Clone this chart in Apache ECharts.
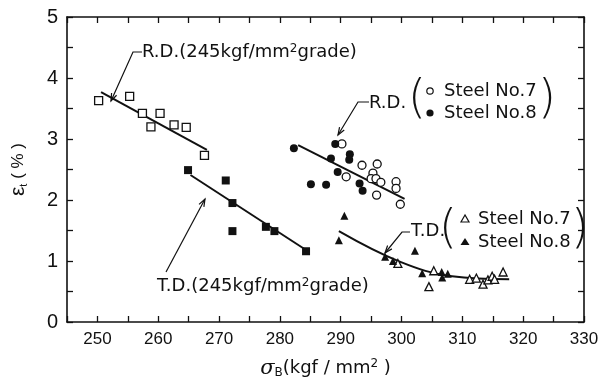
<!DOCTYPE html>
<html>
<head>
<meta charset="utf-8">
<script src="https://cdn.jsdelivr.net/npm/echarts@6/dist/echarts.min.js"></script>
<style>
  html, body { margin: 0; background: #fff; }
  #chart { width: 603px; height: 385px; }
</style>
</head>
<body>
<div id="chart"></div>
<script>
// axis ticks
const xTicks = [250, 260, 270, 280, 290, 300, 310, 320, 330];
const yTicks = [0, 1, 2, 3, 4, 5];

// R.D. (245kgf/mm2 grade) - open squares
const rd245 = [[250.2, 3.63], [255.3, 3.70], [257.4, 3.42], [260.3, 3.42], [258.8, 3.20],
  [262.6, 3.23], [264.6, 3.19], [267.6, 2.73]];
const rd245Fit = [[250.6, 3.77], [268.0, 2.82]];

// T.D. (245kgf/mm2 grade) - filled squares
const td245 = [[264.9, 2.49], [271.1, 2.32], [272.2, 1.95], [272.2, 1.49], [277.7, 1.56],
  [279.1, 1.49], [284.3, 1.16]];
const td245Fit = [[265.3, 2.41], [284.3, 1.18]];

// R.D. Steel No.7 (open circles) / No.8 (filled circles)
const rdNo7 = [[290.2, 2.92], [293.5, 2.57], [296.0, 2.59], [290.9, 2.38], [295.3, 2.44],
  [295.0, 2.35], [295.8, 2.35], [296.6, 2.29], [299.1, 2.30], [299.1, 2.19], [295.9, 2.08], [299.8, 1.93]];
const rdNo8 = [[282.3, 2.85], [289.1, 2.92], [288.4, 2.68], [291.5, 2.75], [291.4, 2.66],
  [289.5, 2.46], [285.1, 2.26], [287.6, 2.25], [293.1, 2.27], [293.6, 2.15]];
const rdFit = [[283.0, 2.90], [300.5, 2.02]];

// T.D. Steel No.7 (open triangles) / No.8 (filled triangles)
const tdNo7 = [[299.4, 0.96], [305.3, 0.84], [304.5, 0.58], [311.2, 0.70], [312.3, 0.72],
  [313.4, 0.62], [314.2, 0.69], [314.9, 0.75], [315.3, 0.70], [316.7, 0.82]];
const tdNo8 = [[290.6, 1.74], [289.7, 1.34], [302.2, 1.17], [297.3, 1.07], [298.6, 1.00],
  [303.4, 0.80], [306.6, 0.82], [306.7, 0.73], [307.6, 0.79]];
const tdFit = [[289.7, 1.49], [299.7, 0.99], [308.3, 0.75], [317.7, 0.70]];

const chart = echarts.init(document.getElementById('chart'));
const ink = '#111';
const font = 'Liberation Sans';
const annFont = 'DejaVu Sans';

function arrowHead(from, tip, len, ang) {
  const dx = tip[0] - from[0], dy = tip[1] - from[1];
  const d = Math.hypot(dx, dy), ux = dx / d, uy = dy / d;
  const p = s => [tip[0] - len * (ux * Math.cos(ang) - s * uy * Math.sin(ang)),
                  tip[1] - len * (uy * Math.cos(ang) + s * ux * Math.sin(ang))];
  return [p(1), tip, p(-1)];
}

function leader(points) {
  const n = points.length;
  return [
    { type: 'polyline', shape: { points: points }, style: { stroke: ink, lineWidth: 1.2, fill: null } },
    { type: 'polyline', shape: { points: arrowHead(points[n - 2], points[n - 1], 8, 0.35) },
      style: { stroke: ink, lineWidth: 1.2, fill: null } }
  ];
}

const annRich = {
  a: { fontSize: 18, fontFamily: annFont, color: ink },
  s: { fontSize: 12, fontFamily: annFont, color: ink, verticalAlign: 'top', padding: [0, 0, 6, 0] }
};

function label(x, y, text) {
  return { type: 'text', x: x, y: y,
    style: { text: text, rich: annRich, fontSize: 18, fontFamily: annFont, fill: ink, verticalAlign: 'middle' } };
}

function paren(x, y, ch) {
  return { type: 'text', x: x, y: y,
    style: { text: ch, fontSize: 46, fontFamily: 'DejaVu Sans', fontWeight: 200, fill: ink,
      align: 'center', verticalAlign: 'middle' } };
}

const graphics = [].concat(
  leader([[142, 52], [133, 52], [111, 101]]),
  [label(142, 52, '{a|R.D.(245kgf/mm}{s|2}{a|grade)}')],
  leader([[166, 272], [205, 199]]),
  [label(157, 286, '{a|T.D.(245kgf/mm}{s|2}{a|grade)}')],
  leader([[369, 102], [358, 102], [338, 135]]),
  [label(369, 103, '{a|R.D.}'), paren(417, 100, '('), paren(547, 100, ')'),
   { type: 'circle', shape: { cx: 430, cy: 91, r: 3.2 }, style: { fill: '#fff', stroke: ink, lineWidth: 1.2 } },
   { type: 'circle', shape: { cx: 430, cy: 113, r: 3.6 }, style: { fill: ink } },
   label(444, 91, '{a|Steel No.7}'), label(444, 113, '{a|Steel No.8}')],
  leader([[410, 232], [402, 232], [385, 253]]),
  [label(411, 231, '{a|T.D.}'), paren(448, 230, '('), paren(580, 230, ')'),
   { type: 'polygon', shape: { points: [[465, 215], [461, 222], [469, 222]] }, style: { fill: '#fff', stroke: ink, lineWidth: 1.2 } },
   { type: 'polygon', shape: { points: [[465, 238], [460.5, 245], [469.5, 245]] }, style: { fill: ink } },
   label(478, 219, '{a|Steel No.7}'), label(478, 242, '{a|Steel No.8}')]
);

const baseX = {
  type: 'value', min: 245, max: 330, interval: 5,
  axisLine: { show: true, onZero: false, lineStyle: { color: ink, width: 1.6 } },
  axisTick: { show: true, inside: true, length: 6, lineStyle: { color: ink, width: 1.3 } },
  splitLine: { show: false }
};
const baseY = {
  type: 'value', min: 0, max: 5, interval: 0.5,
  axisLine: { show: true, onZero: false, lineStyle: { color: ink, width: 1.6 } },
  axisTick: { show: true, inside: true, length: 6, lineStyle: { color: ink, width: 1.3 } },
  splitLine: { show: false }
};

function scatter(data, symbol, filled, size) {
  return {
    type: 'scatter', data: data, symbol: symbol, symbolSize: size,
    itemStyle: { color: filled ? ink : '#fff', borderColor: ink, borderWidth: filled ? 0 : 1.3, opacity: 1 },
    z: 3
  };
}
function fitLine(data, smooth) {
  return {
    type: 'line', data: data, symbol: 'none', smooth: smooth ? 0.4 : false,
    lineStyle: { color: ink, width: 2 }, z: 2
  };
}

chart.setOption({
  animation: false,
  backgroundColor: '#fff',
  grid: { left: 57, right: 19, top: 17, bottom: 63 },
  xAxis: [
    Object.assign({}, baseX, {
      position: 'bottom',
      name: '{g|σ}{b|B}{n|(kgf / mm}{s|2}{n| )}',
      nameLocation: 'middle', nameGap: 36,
      nameTextStyle: { rich: {
        g: { fontSize: 21, fontStyle: 'italic', fontFamily: 'DejaVu Serif', color: ink },
        b: { fontSize: 12, fontFamily: annFont, color: ink, verticalAlign: 'bottom' },
        n: { fontSize: 18, fontFamily: annFont, color: ink },
        s: { fontSize: 12, fontFamily: annFont, color: ink, verticalAlign: 'top' }
      } },
      axisLabel: { fontSize: 17, fontFamily: font, color: ink, margin: 9,
        formatter: v => xTicks.includes(v) ? String(v) : '' }
    }),
    Object.assign({}, baseX, { position: 'top', axisLabel: { show: false } })
  ],
  yAxis: [
    Object.assign({}, baseY, {
      position: 'left',
      name: '{e|ε}{t|t}{n| ( % )}',
      nameLocation: 'middle', nameGap: 38, nameRotate: 90,
      nameTextStyle: { rich: {
        e: { fontSize: 21, fontFamily: font, color: ink },
        t: { fontSize: 11, fontFamily: font, color: ink, verticalAlign: 'bottom' },
        n: { fontSize: 17, fontFamily: font, color: ink }
      } },
      axisLabel: { fontSize: 20, fontFamily: font, color: ink, margin: 9,
        formatter: v => yTicks.includes(v) ? String(v) : '' }
    }),
    Object.assign({}, baseY, { position: 'right', axisLabel: { show: false } })
  ],
  series: [
    fitLine(rd245Fit),
    fitLine(td245Fit),
    fitLine(rdFit),
    fitLine(tdFit, true),
    scatter(rd245, 'rect', false, 8),
    scatter(td245, 'rect', true, 8),
    scatter(rdNo7, 'circle', false, 8),
    scatter(rdNo8, 'circle', true, 8),
    scatter(tdNo7, 'triangle', false, 8),
    scatter(tdNo8, 'triangle', true, 8)
  ],
  graphic: graphics
});
</script>
</body>
</html>
